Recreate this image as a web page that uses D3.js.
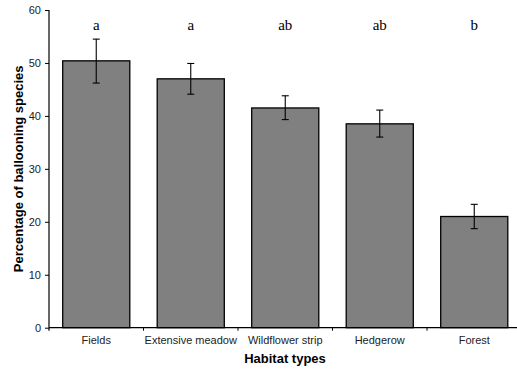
<!DOCTYPE html>
<html>
<head>
<meta charset="utf-8">
<script src="https://cdn.jsdelivr.net/npm/d3@7"></script>
<style>
  body { margin: 0; background: #fff; }
  svg { display: block; }
</style>
</head>
<body>
<svg id="chart" width="517" height="369"></svg>
<script>
// Ballooning species share per habitat type (mean ± SE) with significance letters
const categories = ["Fields", "Extensive meadow", "Wildflower strip", "Hedgerow", "Forest"];
const means = [50.4, 47.0, 41.5, 38.5, 21.0];
const errLow = [46.2, 44.1, 39.3, 36.0, 18.7];
const errHigh = [54.5, 49.9, 43.8, 41.1, 23.3];
const groupLetters = ["a", "a", "ab", "ab", "b"];
const yTicks = [0, 10, 20, 30, 40, 50, 60];

const svg = d3.select("#chart");
const plotLeft = 49, plotRight = 521.5, plotTop = 10, plotBottom = 327.7;

const x = d3.scaleBand().domain(categories).range([plotLeft, plotRight]).paddingInner(0.29).paddingOuter(0.145);
const xBand = d3.scaleBand().domain(categories).range([plotLeft, plotRight]).padding(0);
const y = d3.scaleLinear().domain([0, 60]).range([plotBottom, plotTop]);

// bars
svg.append("g").selectAll("rect").data(categories).join("rect")
  .attr("x", d => x(d))
  .attr("width", x.bandwidth())
  .attr("y", (d, i) => y(means[i]))
  .attr("height", (d, i) => y(0) - y(means[i]))
  .attr("fill", "#808080")
  .attr("stroke", "#000")
  .attr("stroke-width", 1.3);

// error bars
const eg = svg.append("g").attr("stroke", "#000").attr("stroke-width", 1.1);
categories.forEach((c, i) => {
  const cx = x(c) + x.bandwidth() / 2;
  eg.append("line").attr("x1", cx).attr("x2", cx).attr("y1", y(errLow[i])).attr("y2", y(errHigh[i]));
  eg.append("line").attr("x1", cx - 3.5).attr("x2", cx + 3.5).attr("y1", y(errLow[i])).attr("y2", y(errLow[i]));
  eg.append("line").attr("x1", cx - 3.5).attr("x2", cx + 3.5).attr("y1", y(errHigh[i])).attr("y2", y(errHigh[i]));
});

// significance letters
svg.append("g").selectAll("text").data(categories).join("text")
  .attr("x", d => x(d) + x.bandwidth() / 2)
  .attr("y", 30)
  .attr("text-anchor", "middle")
  .attr("font-family", "'Liberation Serif', 'Times New Roman', serif")
  .attr("font-size", 15)
  .attr("fill", "#000")
  .text((d, i) => groupLetters[i]);

// y axis
const yAxis = svg.append("g").attr("transform", `translate(${plotLeft},0)`)
  .call(d3.axisLeft(y).tickValues(yTicks).tickSize(4).tickPadding(4));
yAxis.select(".domain").attr("stroke", "#000").attr("stroke-width", 1.2).attr("d", `M0,${plotBottom + 3}V${plotTop}`);
yAxis.selectAll(".tick line").attr("stroke", "#000");
yAxis.selectAll(".tick text").attr("font-family", "'Liberation Sans', Arial, sans-serif").attr("font-size", 11).attr("fill", "#222");

// x axis with ticks at category boundaries
const xAxis = svg.append("g").attr("transform", `translate(0,${plotBottom})`);
xAxis.append("line").attr("x1", plotLeft).attr("x2", plotRight).attr("y1", 0).attr("y2", 0)
  .attr("stroke", "#000").attr("stroke-width", 1.2);
xAxis.selectAll("line.tk").data(categories.slice(1)).join("line").attr("class", "tk")
  .attr("x1", d => xBand(d)).attr("x2", d => xBand(d)).attr("y1", 0).attr("y2", 3)
  .attr("stroke", "#000");
xAxis.selectAll("text").data(categories).join("text")
  .attr("x", d => xBand(d) + xBand.bandwidth() / 2)
  .attr("y", 16)
  .attr("text-anchor", "middle")
  .attr("font-family", "'Liberation Sans', Arial, sans-serif")
  .attr("font-size", 11)
  .attr("fill", "#222")
  .text(d => d);

// axis titles
svg.append("text")
  .attr("x", 285).attr("y", 363)
  .attr("text-anchor", "middle")
  .attr("font-family", "'Liberation Sans', Arial, sans-serif")
  .attr("font-size", 13).attr("font-weight", "bold")
  .text("Habitat types");

svg.append("text")
  .attr("transform", `translate(23,${(plotTop + plotBottom) / 2}) rotate(-90)`)
  .attr("text-anchor", "middle")
  .attr("font-family", "'Liberation Sans', Arial, sans-serif")
  .attr("font-size", 13).attr("font-weight", "bold")
  .text("Percentage of ballooning species");
</script>
</body>
</html>
